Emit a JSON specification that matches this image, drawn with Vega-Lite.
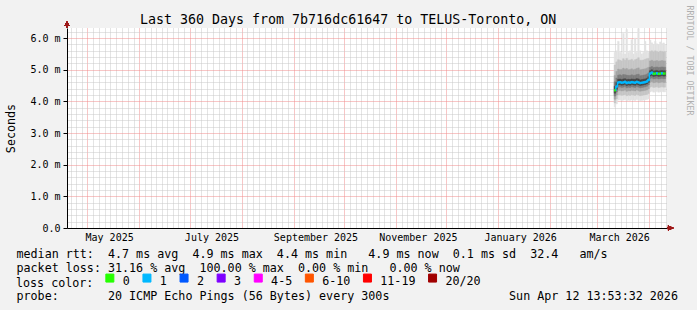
{
  "$schema": "https://vega.github.io/schema/vega-lite/v6.json",
  "width": 600,
  "height": 200,
  "autosize": {"type": "none"},
  "padding": {"left": 67, "top": 28, "right": 30, "bottom": 82},
  "background": "#f2f2f2",
  "config": {
    "font": "DejaVu Sans Mono",
    "view": {"fill": "white", "stroke": null},
    "axis": {"labelFont": "DejaVu Sans Mono", "titleFont": "DejaVu Sans Mono", "titleFontWeight": "normal", "labelColor": "#000", "titleColor": "#000"}
  },
  "title": {"text": "Last 360 Days from 7b716dc61647 to TELUS-Toronto, ON", "font": "DejaVu Sans Mono", "fontSize": 13.3, "fontWeight": "normal", "color": "#000", "anchor": "start", "frame": "group", "dx": 73, "baseline": "alphabetic", "offset": -32},
  "datasets": {
    "d": [
      {"t": "2026-03-11T00:00", "e": "2026-03-12T00:00", "mn": 3.82, "a1": 3.95, "b1": 4.07, "c1": 4.17, "d1": 4.26, "md": 4.35, "d2": 4.48, "c2": 4.62, "b2": 4.82, "a2": 5.15, "mx": 5.55, "loss": "0"},
      {"t": "2026-03-12T00:00", "e": "2026-03-13T00:00", "mn": 3.92, "a1": 4.08, "b1": 4.2, "c1": 4.3, "d1": 4.38, "md": 4.47, "d2": 4.6, "c2": 4.74, "b2": 4.95, "a2": 5.25, "mx": 5.6, "loss": "1"},
      {"t": "2026-03-13T00:00", "e": "2026-03-14T00:00", "mn": 4.04, "a1": 4.2, "b1": 4.34, "c1": 4.45, "d1": 4.52, "md": 4.6, "d2": 4.7, "c2": 4.83, "b2": 5.02, "a2": 5.32, "mx": 5.9, "loss": "1"},
      {"t": "2026-03-14T00:00", "e": "2026-03-15T00:00", "mn": 4.05, "a1": 4.21, "b1": 4.35, "c1": 4.46, "d1": 4.53, "md": 4.61, "d2": 4.71, "c2": 4.84, "b2": 5.0, "a2": 5.3, "mx": 5.55, "loss": "1"},
      {"t": "2026-03-15T00:00", "e": "2026-03-16T00:00", "mn": 4.03, "a1": 4.19, "b1": 4.33, "c1": 4.44, "d1": 4.51, "md": 4.59, "d2": 4.69, "c2": 4.82, "b2": 5.01, "a2": 5.28, "mx": 5.5, "loss": "1"},
      {"t": "2026-03-16T00:00", "e": "2026-03-17T00:00", "mn": 4.04, "a1": 4.2, "b1": 4.34, "c1": 4.45, "d1": 4.52, "md": 4.6, "d2": 4.71, "c2": 4.85, "b2": 5.05, "a2": 5.35, "mx": 6.15, "loss": "1"},
      {"t": "2026-03-17T00:00", "e": "2026-03-18T00:00", "mn": 4.06, "a1": 4.22, "b1": 4.36, "c1": 4.47, "d1": 4.54, "md": 4.62, "d2": 4.72, "c2": 4.84, "b2": 5.02, "a2": 5.3, "mx": 5.5, "loss": "1"},
      {"t": "2026-03-18T00:00", "e": "2026-03-19T00:00", "mn": 4.02, "a1": 4.18, "b1": 4.32, "c1": 4.43, "d1": 4.5, "md": 4.58, "d2": 4.69, "c2": 4.83, "b2": 5.04, "a2": 5.36, "mx": 6.27, "loss": "1"},
      {"t": "2026-03-19T00:00", "e": "2026-03-20T00:00", "mn": 4.04, "a1": 4.2, "b1": 4.34, "c1": 4.45, "d1": 4.52, "md": 4.6, "d2": 4.7, "c2": 4.82, "b2": 5.0, "a2": 5.3, "mx": 5.55, "loss": "1"},
      {"t": "2026-03-20T00:00", "e": "2026-03-21T00:00", "mn": 4.03, "a1": 4.19, "b1": 4.33, "c1": 4.44, "d1": 4.51, "md": 4.59, "d2": 4.69, "c2": 4.82, "b2": 5.01, "a2": 5.31, "mx": 5.6, "loss": "1"},
      {"t": "2026-03-21T00:00", "e": "2026-03-22T00:00", "mn": 4.05, "a1": 4.21, "b1": 4.35, "c1": 4.46, "d1": 4.53, "md": 4.61, "d2": 4.71, "c2": 4.84, "b2": 5.03, "a2": 5.33, "mx": 5.95, "loss": "1"},
      {"t": "2026-03-22T00:00", "e": "2026-03-23T00:00", "mn": 4.04, "a1": 4.2, "b1": 4.34, "c1": 4.45, "d1": 4.52, "md": 4.6, "d2": 4.7, "c2": 4.82, "b2": 5.0, "a2": 5.28, "mx": 5.5, "loss": "1"},
      {"t": "2026-03-23T00:00", "e": "2026-03-24T00:00", "mn": 4.03, "a1": 4.19, "b1": 4.33, "c1": 4.44, "d1": 4.51, "md": 4.59, "d2": 4.7, "c2": 4.83, "b2": 5.02, "a2": 5.32, "mx": 6.0, "loss": "1"},
      {"t": "2026-03-24T00:00", "e": "2026-03-25T00:00", "mn": 4.06, "a1": 4.22, "b1": 4.36, "c1": 4.47, "d1": 4.54, "md": 4.62, "d2": 4.72, "c2": 4.85, "b2": 5.04, "a2": 5.34, "mx": 5.55, "loss": "1"},
      {"t": "2026-03-25T00:00", "e": "2026-03-26T00:00", "mn": 4.04, "a1": 4.2, "b1": 4.34, "c1": 4.45, "d1": 4.52, "md": 4.6, "d2": 4.71, "c2": 4.86, "b2": 5.06, "a2": 5.38, "mx": 6.3, "loss": "1"},
      {"t": "2026-03-26T00:00", "e": "2026-03-27T00:00", "mn": 4.02, "a1": 4.18, "b1": 4.32, "c1": 4.43, "d1": 4.5, "md": 4.58, "d2": 4.68, "c2": 4.81, "b2": 5.0, "a2": 5.3, "mx": 5.6, "loss": "1"},
      {"t": "2026-03-27T00:00", "e": "2026-03-28T00:00", "mn": 4.03, "a1": 4.19, "b1": 4.33, "c1": 4.44, "d1": 4.51, "md": 4.59, "d2": 4.69, "c2": 4.82, "b2": 5.01, "a2": 5.3, "mx": 5.5, "loss": "1"},
      {"t": "2026-03-28T00:00", "e": "2026-03-29T00:00", "mn": 4.04, "a1": 4.2, "b1": 4.34, "c1": 4.45, "d1": 4.52, "md": 4.6, "d2": 4.7, "c2": 4.83, "b2": 5.02, "a2": 5.31, "mx": 5.55, "loss": "1"},
      {"t": "2026-03-29T00:00", "e": "2026-03-30T00:00", "mn": 4.05, "a1": 4.21, "b1": 4.35, "c1": 4.46, "d1": 4.53, "md": 4.61, "d2": 4.71, "c2": 4.84, "b2": 5.03, "a2": 5.33, "mx": 5.9, "loss": "1"},
      {"t": "2026-03-30T00:00", "e": "2026-03-31T00:00", "mn": 4.06, "a1": 4.22, "b1": 4.36, "c1": 4.48, "d1": 4.55, "md": 4.63, "d2": 4.73, "c2": 4.86, "b2": 5.05, "a2": 5.35, "mx": 5.6, "loss": "1"},
      {"t": "2026-03-31T00:00", "e": "2026-04-01T00:00", "mn": 4.08, "a1": 4.25, "b1": 4.4, "c1": 4.52, "d1": 4.6, "md": 4.68, "d2": 4.78, "c2": 4.9, "b2": 5.08, "a2": 5.36, "mx": 5.55, "loss": "1"},
      {"t": "2026-04-01T00:00", "e": "2026-04-02T00:00", "mn": 4.3, "a1": 4.45, "b1": 4.6, "c1": 4.72, "d1": 4.8, "md": 4.88, "d2": 4.97, "c2": 5.08, "b2": 5.28, "a2": 5.58, "mx": 5.94, "loss": "1"},
      {"t": "2026-04-02T00:00", "e": "2026-04-03T00:00", "mn": 4.32, "a1": 4.47, "b1": 4.62, "c1": 4.74, "d1": 4.82, "md": 4.91, "d2": 5.0, "c2": 5.1, "b2": 5.3, "a2": 5.6, "mx": 5.85, "loss": "1"},
      {"t": "2026-04-03T00:00", "e": "2026-04-04T00:00", "mn": 4.29, "a1": 4.44, "b1": 4.59, "c1": 4.71, "d1": 4.79, "md": 4.87, "d2": 4.96, "c2": 5.07, "b2": 5.27, "a2": 5.57, "mx": 5.8, "loss": "0"},
      {"t": "2026-04-04T00:00", "e": "2026-04-05T00:00", "mn": 4.3, "a1": 4.45, "b1": 4.6, "c1": 4.72, "d1": 4.8, "md": 4.88, "d2": 4.97, "c2": 5.08, "b2": 5.28, "a2": 5.6, "mx": 5.9, "loss": "0"},
      {"t": "2026-04-05T00:00", "e": "2026-04-06T00:00", "mn": 4.31, "a1": 4.46, "b1": 4.61, "c1": 4.73, "d1": 4.81, "md": 4.89, "d2": 4.98, "c2": 5.09, "b2": 5.29, "a2": 5.58, "mx": 5.82, "loss": "1"},
      {"t": "2026-04-06T00:00", "e": "2026-04-07T00:00", "mn": 4.29, "a1": 4.44, "b1": 4.59, "c1": 4.71, "d1": 4.79, "md": 4.87, "d2": 4.96, "c2": 5.07, "b2": 5.27, "a2": 5.56, "mx": 5.8, "loss": "0"},
      {"t": "2026-04-07T00:00", "e": "2026-04-08T00:00", "mn": 4.3, "a1": 4.45, "b1": 4.6, "c1": 4.72, "d1": 4.8, "md": 4.88, "d2": 4.97, "c2": 5.08, "b2": 5.28, "a2": 5.59, "mx": 5.88, "loss": "0"},
      {"t": "2026-04-08T00:00", "e": "2026-04-09T00:00", "mn": 4.31, "a1": 4.46, "b1": 4.61, "c1": 4.73, "d1": 4.81, "md": 4.89, "d2": 4.98, "c2": 5.09, "b2": 5.29, "a2": 5.58, "mx": 5.82, "loss": "1"},
      {"t": "2026-04-09T00:00", "e": "2026-04-10T00:00", "mn": 4.3, "a1": 4.45, "b1": 4.6, "c1": 4.72, "d1": 4.8, "md": 4.88, "d2": 4.97, "c2": 5.08, "b2": 5.28, "a2": 5.57, "mx": 5.85, "loss": "0"},
      {"t": "2026-04-10T00:00", "e": "2026-04-10T16:00", "mn": 4.3, "a1": 4.45, "b1": 4.6, "c1": 4.72, "d1": 4.8, "md": 4.88, "d2": 4.97, "c2": 5.08, "b2": 5.28, "a2": 5.58, "mx": 5.8, "loss": "0"}
    ]
  },
  "data": {"name": "d"},
  "layer": [
    {
      "mark": {"type": "rect", "color": "#e2e2e2", "stroke": "#e2e2e2", "strokeWidth": 0.4},
      "encoding": {
        "x": {"field": "t", "type": "temporal",
          "scale": {"domain": [{"year": 2025, "month": 4, "date": 18, "hours": 21, "minutes": 36}, {"year": 2026, "month": 4, "date": 11, "hours": 12}]},
          "axis": {"orient": "bottom", "grid": true, "gridColor": "#c8c8c8", "gridDash": [1, 1], "labels": false, "ticks": false, "domain": false, "title": null,
            "values": [
              {"year": 2025, "month": 4, "date": 21, "hours": 0}, {"year": 2025, "month": 4, "date": 24, "hours": 8}, {"year": 2025, "month": 4, "date": 27, "hours": 16},
              {"year": 2025, "month": 5, "date": 4, "hours": 11}, {"year": 2025, "month": 5, "date": 7, "hours": 21}, {"year": 2025, "month": 5, "date": 11, "hours": 8}, {"year": 2025, "month": 5, "date": 14, "hours": 19}, {"year": 2025, "month": 5, "date": 18, "hours": 5}, {"year": 2025, "month": 5, "date": 21, "hours": 16}, {"year": 2025, "month": 5, "date": 25, "hours": 3}, {"year": 2025, "month": 5, "date": 28, "hours": 13},
              {"year": 2025, "month": 6, "date": 4, "hours": 8}, {"year": 2025, "month": 6, "date": 7, "hours": 16}, {"year": 2025, "month": 6, "date": 11, "hours": 0}, {"year": 2025, "month": 6, "date": 14, "hours": 8}, {"year": 2025, "month": 6, "date": 17, "hours": 16}, {"year": 2025, "month": 6, "date": 21, "hours": 0}, {"year": 2025, "month": 6, "date": 24, "hours": 8}, {"year": 2025, "month": 6, "date": 27, "hours": 16},
              {"year": 2025, "month": 7, "date": 4, "hours": 11}, {"year": 2025, "month": 7, "date": 7, "hours": 21}, {"year": 2025, "month": 7, "date": 11, "hours": 8}, {"year": 2025, "month": 7, "date": 14, "hours": 19}, {"year": 2025, "month": 7, "date": 18, "hours": 5}, {"year": 2025, "month": 7, "date": 21, "hours": 16}, {"year": 2025, "month": 7, "date": 25, "hours": 3}, {"year": 2025, "month": 7, "date": 28, "hours": 13},
              {"year": 2025, "month": 8, "date": 4, "hours": 11}, {"year": 2025, "month": 8, "date": 7, "hours": 21}, {"year": 2025, "month": 8, "date": 11, "hours": 8}, {"year": 2025, "month": 8, "date": 14, "hours": 19}, {"year": 2025, "month": 8, "date": 18, "hours": 5}, {"year": 2025, "month": 8, "date": 21, "hours": 16}, {"year": 2025, "month": 8, "date": 25, "hours": 3}, {"year": 2025, "month": 8, "date": 28, "hours": 13},
              {"year": 2025, "month": 9, "date": 4, "hours": 8}, {"year": 2025, "month": 9, "date": 7, "hours": 16}, {"year": 2025, "month": 9, "date": 11, "hours": 0}, {"year": 2025, "month": 9, "date": 14, "hours": 8}, {"year": 2025, "month": 9, "date": 17, "hours": 16}, {"year": 2025, "month": 9, "date": 21, "hours": 0}, {"year": 2025, "month": 9, "date": 24, "hours": 8}, {"year": 2025, "month": 9, "date": 27, "hours": 16},
              {"year": 2025, "month": 10, "date": 4, "hours": 11}, {"year": 2025, "month": 10, "date": 7, "hours": 21}, {"year": 2025, "month": 10, "date": 11, "hours": 8}, {"year": 2025, "month": 10, "date": 14, "hours": 19}, {"year": 2025, "month": 10, "date": 18, "hours": 5}, {"year": 2025, "month": 10, "date": 21, "hours": 16}, {"year": 2025, "month": 10, "date": 25, "hours": 3}, {"year": 2025, "month": 10, "date": 28, "hours": 13},
              {"year": 2025, "month": 11, "date": 4, "hours": 8}, {"year": 2025, "month": 11, "date": 7, "hours": 16}, {"year": 2025, "month": 11, "date": 11, "hours": 0}, {"year": 2025, "month": 11, "date": 14, "hours": 8}, {"year": 2025, "month": 11, "date": 17, "hours": 16}, {"year": 2025, "month": 11, "date": 21, "hours": 0}, {"year": 2025, "month": 11, "date": 24, "hours": 8}, {"year": 2025, "month": 11, "date": 27, "hours": 16},
              {"year": 2025, "month": 12, "date": 4, "hours": 11}, {"year": 2025, "month": 12, "date": 7, "hours": 21}, {"year": 2025, "month": 12, "date": 11, "hours": 8}, {"year": 2025, "month": 12, "date": 14, "hours": 19}, {"year": 2025, "month": 12, "date": 18, "hours": 5}, {"year": 2025, "month": 12, "date": 21, "hours": 16}, {"year": 2025, "month": 12, "date": 25, "hours": 3}, {"year": 2025, "month": 12, "date": 28, "hours": 13},
              {"year": 2026, "month": 1, "date": 4, "hours": 11}, {"year": 2026, "month": 1, "date": 7, "hours": 21}, {"year": 2026, "month": 1, "date": 11, "hours": 8}, {"year": 2026, "month": 1, "date": 14, "hours": 19}, {"year": 2026, "month": 1, "date": 18, "hours": 5}, {"year": 2026, "month": 1, "date": 21, "hours": 16}, {"year": 2026, "month": 1, "date": 25, "hours": 3}, {"year": 2026, "month": 1, "date": 28, "hours": 13},
              {"year": 2026, "month": 2, "date": 4, "hours": 3}, {"year": 2026, "month": 2, "date": 7, "hours": 5}, {"year": 2026, "month": 2, "date": 10, "hours": 8}, {"year": 2026, "month": 2, "date": 13, "hours": 11}, {"year": 2026, "month": 2, "date": 16, "hours": 13}, {"year": 2026, "month": 2, "date": 19, "hours": 16}, {"year": 2026, "month": 2, "date": 22, "hours": 19}, {"year": 2026, "month": 2, "date": 25, "hours": 21},
              {"year": 2026, "month": 3, "date": 4, "hours": 11}, {"year": 2026, "month": 3, "date": 7, "hours": 21}, {"year": 2026, "month": 3, "date": 11, "hours": 8}, {"year": 2026, "month": 3, "date": 14, "hours": 19}, {"year": 2026, "month": 3, "date": 18, "hours": 5}, {"year": 2026, "month": 3, "date": 21, "hours": 16}, {"year": 2026, "month": 3, "date": 25, "hours": 3}, {"year": 2026, "month": 3, "date": 28, "hours": 13},
              {"year": 2026, "month": 4, "date": 4, "hours": 8}, {"year": 2026, "month": 4, "date": 7, "hours": 16}, {"year": 2026, "month": 4, "date": 11, "hours": 0}
            ]}},
        "x2": {"field": "e"},
        "y": {"field": "mn", "type": "quantitative", "scale": {"domain": [0, 6.32], "nice": false, "zero": false},
          "axis": {"orient": "left", "grid": true, "gridColor": "#c8c8c8", "gridDash": [1, 1], "values": [0.2, 0.4, 0.6, 0.8, 1.2, 1.4, 1.6, 1.8, 2.2, 2.4, 2.6, 2.8, 3.2, 3.4, 3.6, 3.8, 4.2, 4.4, 4.6, 4.8, 5.2, 5.4, 5.6, 5.8, 6.2], "labels": false, "ticks": false, "domain": false, "title": null}},
        "y2": {"field": "mx"}
      }
    },
    {
      "mark": {"type": "rect", "color": "#c6c6c6", "stroke": "#c6c6c6", "strokeWidth": 0.4},
      "encoding": {
        "x": {"field": "t", "type": "temporal",
          "axis": {"orient": "bottom", "grid": true, "gridColor": "#f08c8c", "gridDash": [1, 1], "tickCount": {"interval": "month", "step": 1}, "labels": false, "ticks": false, "domain": false, "title": null}},
        "x2": {"field": "e"},
        "y": {"field": "a1", "type": "quantitative",
          "axis": {"orient": "left", "grid": true, "gridColor": "#f08c8c", "gridDash": [1, 1], "values": [1, 2, 3, 4, 5, 6], "labels": false, "ticks": false, "domain": false, "title": null}},
        "y2": {"field": "a2"}
      }
    },
    {
      "mark": {"type": "rect", "color": "#a4a4a4", "stroke": "#a4a4a4", "strokeWidth": 0.4},
      "encoding": {
        "x": {"field": "t", "type": "temporal",
          "axis": {"orient": "bottom",
            "values": [{"year": 2025, "month": 5, "date": 14}, {"year": 2025, "month": 7, "date": 14}, {"year": 2025, "month": 9, "date": 14}, {"year": 2025, "month": 11, "date": 14}, {"year": 2026, "month": 1, "date": 14}, {"year": 2026, "month": 3, "date": 14}],
            "format": "%B %Y", "formatType": "time", "labelFontSize": 10, "labelBaseline": "alphabetic", "labelPadding": 12.7,
            "ticks": false, "tickSize": 0, "domain": true, "domainColor": "#000", "grid": false,
            "labelOverlap": false, "labelBound": false, "labelFlush": false,
            "title": ["median rtt:\u00a0\u00a04.7 ms avg\u00a0\u00a04.9 ms max\u00a0\u00a04.4 ms min\u00a0\u00a0\u00a04.9 ms now\u00a0\u00a00.1 ms sd\u00a0\u00a032.4\u00a0\u00a0\u00a0am/s", "packet loss: 31.16 % avg\u00a0\u00a0100.00 % max\u00a0\u00a00.00 % min\u00a0\u00a0\u00a00.00 % now", "\u200b", "probe:\u00a0\u00a0\u00a0\u00a0\u00a0\u00a0\u00a020 ICMP Echo Pings (56 Bytes) every 300s\u00a0\u00a0\u00a0\u00a0\u00a0\u00a0\u00a0\u00a0\u00a0\u00a0\u00a0\u00a0\u00a0\u00a0\u00a0\u00a0\u00a0Sun Apr 12 13:53:32 2026"],
            "titleFontSize": 11.7, "titleLineHeight": 14, "titleX": -51, "titleY": 29.3, "titleAlign": "left", "titleBaseline": "alphabetic", "titleLimit": 2000}},
        "x2": {"field": "e"},
        "y": {"field": "b1", "type": "quantitative",
          "axis": {"orient": "right", "labels": false, "ticks": false, "domain": false, "grid": false,
            "title": "RRDTOOL / TOBI OETIKER", "titleFontSize": 8.3, "titleColor": "#b0b0b0", "titleAngle": 90, "titleX": 21, "titleY": -23, "titleAlign": "left", "titleBaseline": "middle", "titleLimit": 500}},
        "y2": {"field": "b2"}
      }
    },
    {
      "mark": {"type": "rect", "color": "#7e7e7e", "stroke": "#7e7e7e", "strokeWidth": 0.4},
      "encoding": {
        "x": {"field": "t", "type": "temporal", "axis": null},
        "x2": {"field": "e"},
        "y": {"field": "c1", "type": "quantitative",
          "axis": {"orient": "left", "values": [0, 1, 2, 3, 4, 5, 6], "labelExpr": "datum.value == 0 ? '0.0' : format(datum.value, '.1f') + ' m'", "labelFontSize": 10, "labelPadding": 3, "ticks": true, "tickSize": 4, "tickColor": "#000", "domain": true, "domainColor": "#000", "grid": false,
            "title": "Seconds", "titleFontSize": 11.7, "titleX": -57, "titleY": 100, "titleAngle": -90, "titleAlign": "center", "titleBaseline": "middle"}},
        "y2": {"field": "c2"}
      }
    },
    {
      "mark": {"type": "rect", "color": "#474747", "stroke": "#474747", "strokeWidth": 0.4},
      "encoding": {
        "x": {"field": "t", "type": "temporal", "axis": null},
        "x2": {"field": "e"},
        "y": {"field": "d1", "type": "quantitative", "axis": null},
        "y2": {"field": "d2"}
      }
    },
    {
      "mark": {"type": "line", "interpolate": "step-after", "color": "#00b8ff", "strokeWidth": 1.5},
      "encoding": {
        "x": {"field": "t", "type": "temporal", "axis": null},
        "y": {"field": "md", "type": "quantitative", "axis": null}
      }
    },
    {
      "mark": {"type": "rule", "strokeWidth": 2.4, "opacity": 1},
      "encoding": {
        "x": {"field": "t", "type": "temporal", "axis": null},
        "x2": {"field": "e"},
        "y": {"field": "md", "type": "quantitative", "axis": null},
        "color": {"field": "loss", "type": "nominal",
          "scale": {"domain": ["0", "1", "2", "3", "4-5", "6-10", "11-19", "20/20"], "range": ["#26ff00", "#00b8ff", "#0059ff", "#7e00ff", "#ff00ff", "#ff5500", "#ff0000", "#a10000"]},
          "legend": {"orient": "none", "legendX": -51, "legendY": 244, "direction": "horizontal", "columns": 8,
            "title": "loss color:", "titleOrient": "left", "titleAnchor": "middle", "titleBaseline": "middle", "titleFont": "DejaVu Sans Mono", "titleFontSize": 11.7, "titleFontWeight": "normal", "titleColor": "#000", "titlePadding": 10,
            "labelFont": "DejaVu Sans Mono", "labelFontSize": 11.7, "labelColor": "#000", "labelOffset": 7, "columnPadding": 10.1,
            "symbolType": "square", "symbolSize": 64, "symbolStrokeColor": "#000", "symbolStrokeWidth": 1, "symbolOpacity": 1, "padding": 0,
            "encode": {
              "symbols": {"update": {"fill": {"scale": "color", "field": "value"}, "stroke": {"value": "#000"}, "strokeWidth": {"value": 1}, "opacity": {"value": 1}}},
              "labels": {"update": {"dy": {"value": 3}}},
              "title": {"update": {"dy": {"value": 3}}}
            }}}
      }
    },
    {
      "mark": {"type": "point", "shape": "M -0.17 0 L -0.17 -0.67 L -0.83 -0.67 L 0 -2.17 L 0.83 -0.67 L 0.17 -0.67 L 0.17 0 Z", "filled": true, "color": "#9d1a1a", "opacity": 1, "size": 36, "clip": false},
      "encoding": {
        "x": {"datum": {"year": 2025, "month": 4, "date": 18, "hours": 21, "minutes": 36}, "type": "temporal", "axis": null},
        "y": {"datum": 6.32, "type": "quantitative", "axis": null}
      }
    },
    {
      "mark": {"type": "point", "shape": "M 0 -0.17 L 0.33 -0.17 L 0.33 -0.83 L 2.17 0 L 0.33 0.83 L 0.33 0.17 L 0 0.17 Z", "filled": true, "color": "#9d1a1a", "opacity": 1, "size": 36, "clip": false},
      "encoding": {
        "x": {"datum": {"year": 2026, "month": 4, "date": 11, "hours": 12}, "type": "temporal", "axis": null},
        "y": {"datum": 0, "type": "quantitative", "axis": null}
      }
    }
  ],
  "resolve": {"axis": {"x": "independent", "y": "independent"}}
}
